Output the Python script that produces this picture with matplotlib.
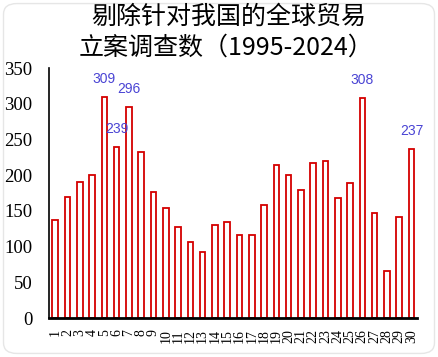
import matplotlib
matplotlib.use("Agg")
import matplotlib.pyplot as plt
from matplotlib.patches import FancyBboxPatch

plt.rcParams['font.family'] = ['Liberation Serif', 'Noto Sans CJK SC', 'DejaVu Sans']

title = "剔除针对我国的全球贸易\n立案调查数（1995-2024）"
categories = [str(i) for i in range(1, 31)]
values = [137, 170, 190, 200, 309, 239, 296, 233, 176, 154,
          127, 107, 93, 130, 134, 117, 117, 159, 215, 200,
          179, 217, 220, 168, 189, 308, 147, 66, 141, 237]
labeled = {5: 309, 6: 239, 7: 296, 26: 308, 30: 237}
yticks = [0, 50, 100, 150, 200, 250, 300, 350]

fig = plt.figure(figsize=(4.38, 3.57), dpi=100)
fig.patches.append(FancyBboxPatch((0.008, 0.01), 0.984, 0.98,
                                  boxstyle="round,pad=0,rounding_size=0.03",
                                  transform=fig.transFigure, facecolor='white',
                                  edgecolor='#e6e6e6', linewidth=1, zorder=-1))
ax = fig.add_axes([0.112, 0.109, 0.84, 0.7])
x = list(range(1, 31))
ax.bar(x, values, width=0.45, facecolor='white', edgecolor='#d40000', linewidth=1.3)

for i, v in labeled.items():
    ax.annotate(str(v), (i, values[i - 1]), xytext=(0, 13), textcoords='offset points',
                ha='center', va='center', color='#4a44d4', fontsize=10,
                family=['Liberation Sans'])

ax.set_xlim(0.5, 30.45)
ax.set_ylim(0, 350)
ax.set_yticks(yticks)
ax.set_yticklabels([str(t) for t in yticks], fontsize=13.5)
ax.set_xticks(x)
ax.set_xticklabels(categories, rotation=90, fontsize=10)
ax.tick_params(axis='both', length=0)
ax.tick_params(axis='y', pad=12)
ax.tick_params(axis='x', pad=8)
for s in ['top', 'right']:
    ax.spines[s].set_visible(False)
ax.spines['left'].set_linewidth(1.2)
ax.spines['bottom'].set_linewidth(2)

lines = title.split("\n")
fig.text(0.522, 0.952, lines[0], ha='center', va='center', fontsize=18,
         family=['Noto Sans CJK SC'], weight='medium')
fig.text(0.515, 0.868, lines[1], ha='center', va='center', fontsize=18,
         family=['Noto Sans CJK SC'], weight='medium')

fig.savefig("out.png", dpi=100)
